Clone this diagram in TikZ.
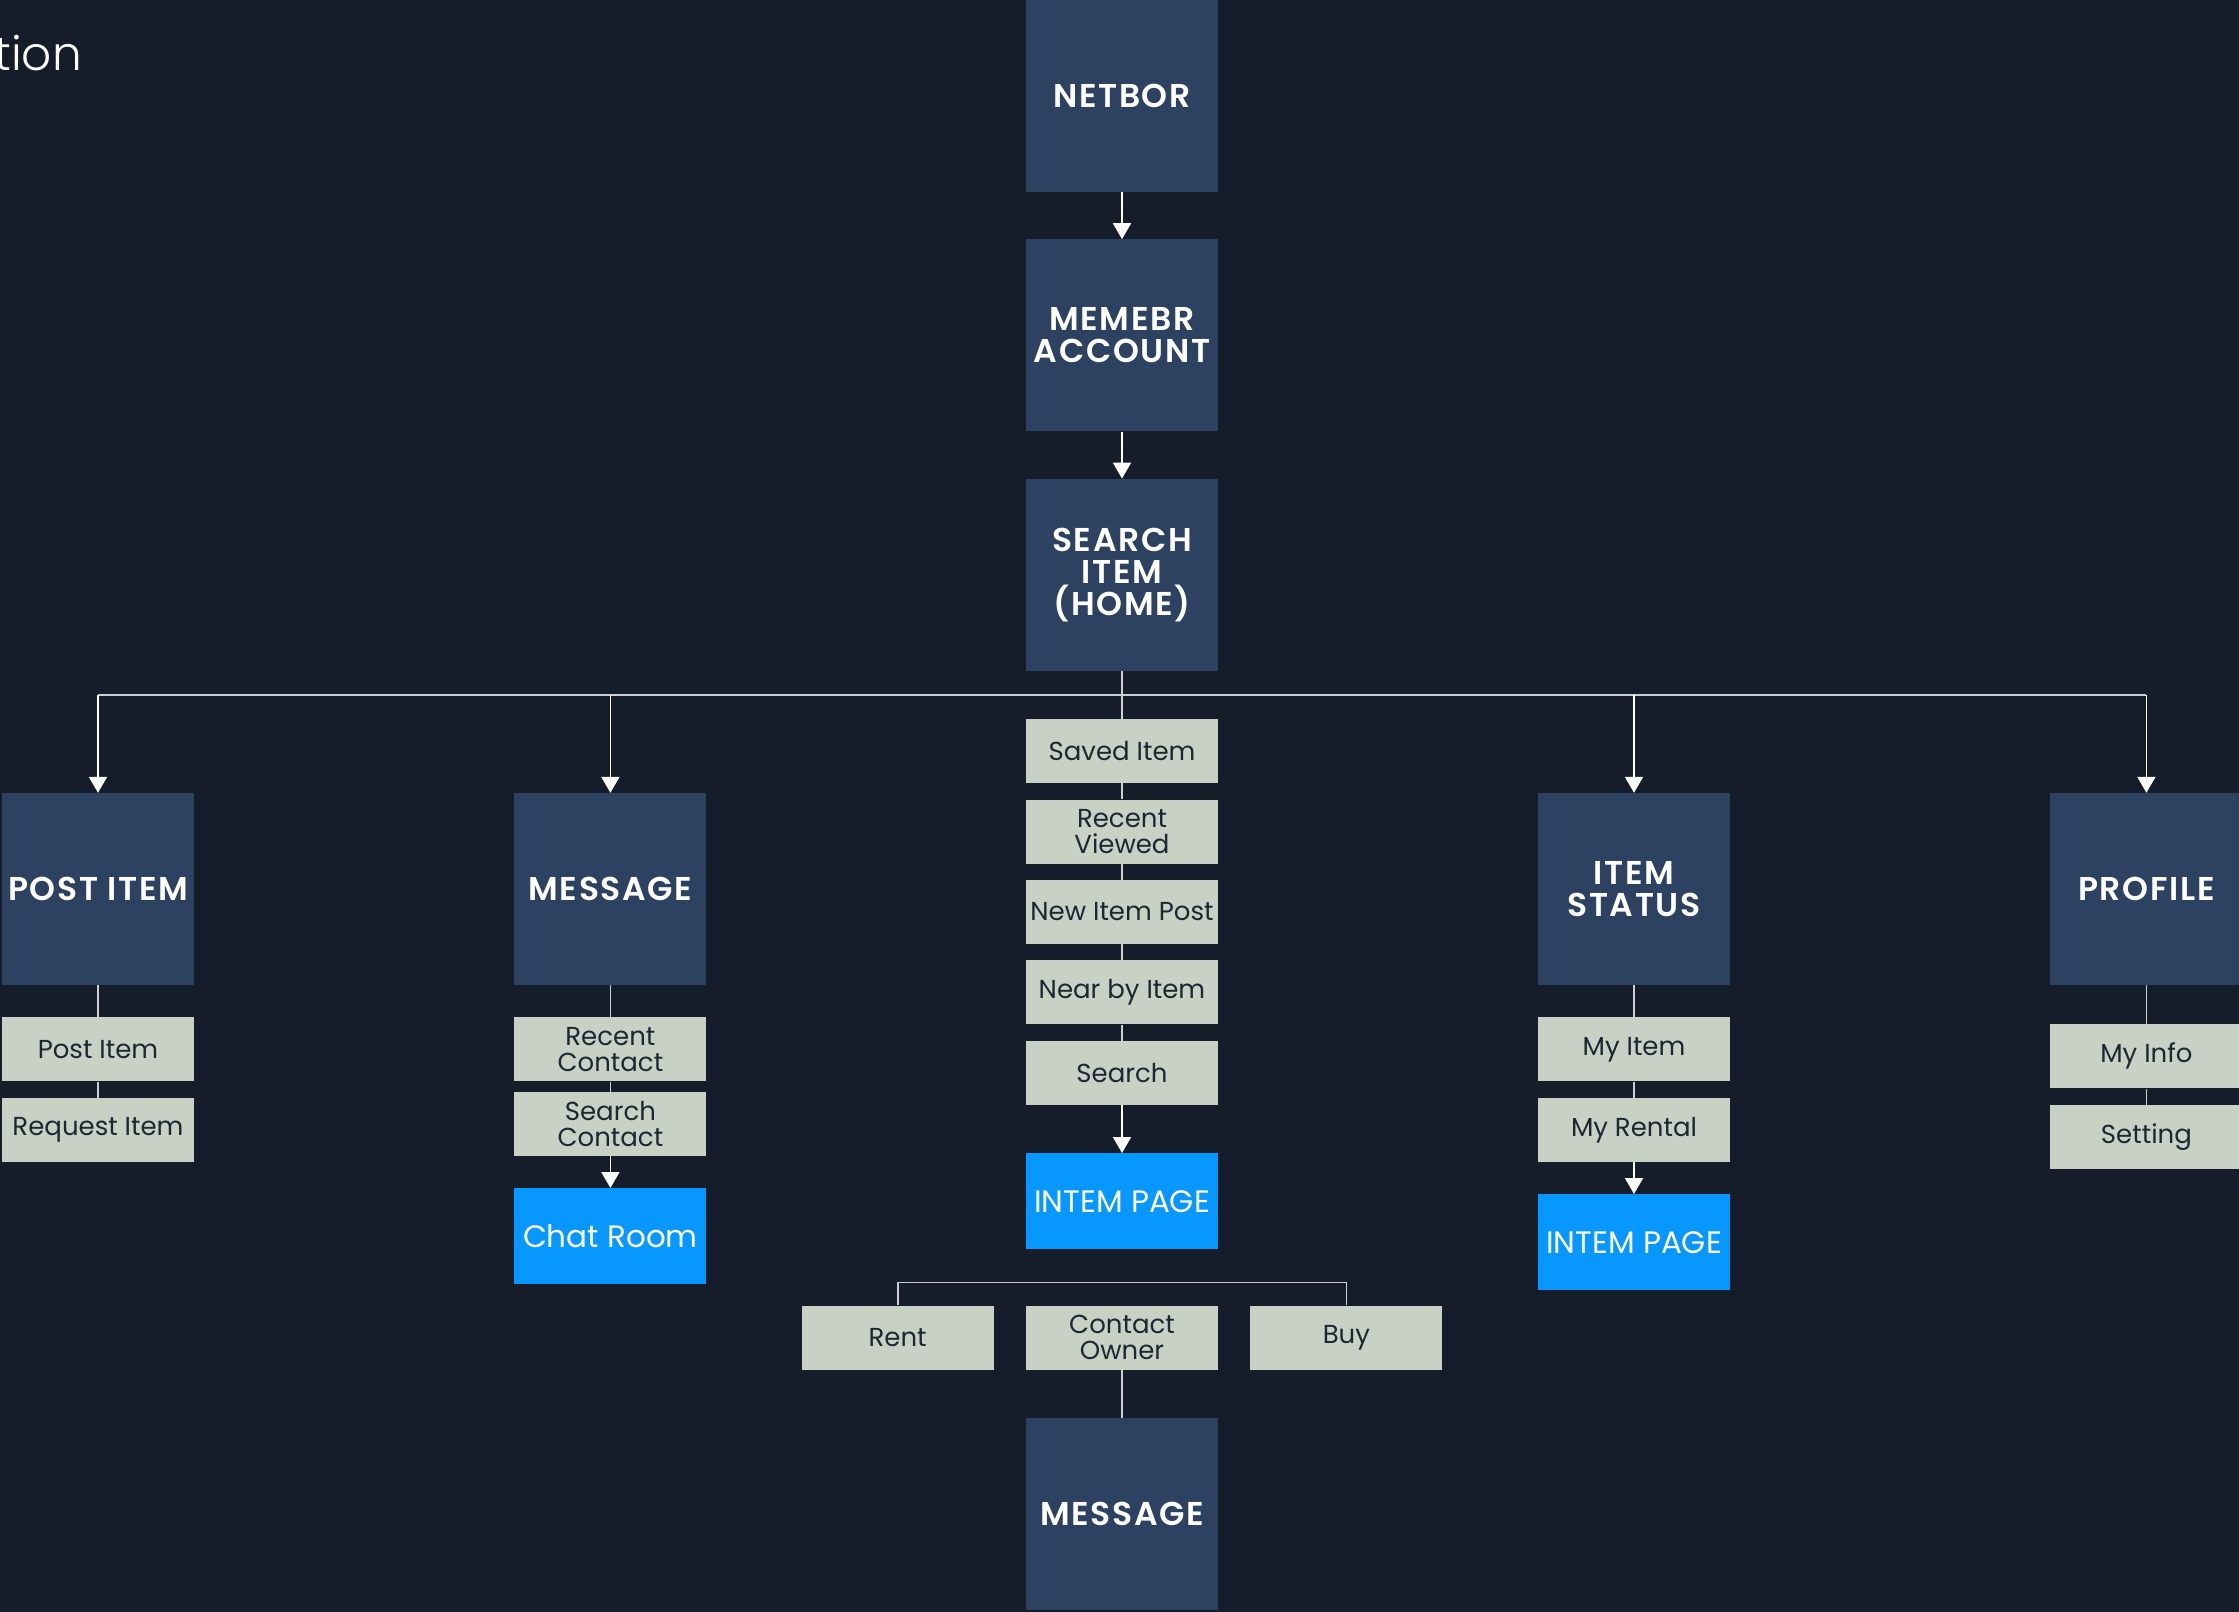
\documentclass[tikz,border=0pt]{standalone}
\usepackage{fontspec}
\setmainfont{Poppins}
\newfontfamily\lightfont{Poppins Light}
\newfontfamily\headfont{Poppins SemiBold}[LetterSpace=5]
\usetikzlibrary{arrows.meta, positioning}

\definecolor{bgnavy}{HTML}{151D2B}
\definecolor{boxnavy}{HTML}{2D4161}
\definecolor{sage}{HTML}{C9D1C5}
\definecolor{ink}{HTML}{1E2633}
\definecolor{pageblue}{HTML}{0797FE}
\definecolor{wire}{HTML}{CBCFD2}

\begin{document}
\begin{tikzpicture}[x=1pt, y=-1pt,
    node distance=16pt and 32pt,
    screenbox/.style={rectangle, minimum width=192pt, minimum height=192pt, inner sep=0pt, align=center, fill=boxnavy, text=white, font=\headfont\fontsize{33}{32}\selectfont},
    feature/.style={rectangle, minimum width=192pt, minimum height=64pt, inner sep=0pt, align=center, fill=sage, text=ink, font=\fontsize{26}{26}\selectfont},
    pagebox/.style={rectangle, minimum width=192pt, minimum height=96pt, inner sep=0pt, align=center, fill=pageblue, text=white, font=\fontsize{31}{31}\selectfont},
    link/.style={draw=wire, line width=1.8pt},
    arrow/.style={draw=white, line width=1.8pt, -{Triangle[width=18pt,length=16pt]}}
    ]
    \fill[bgnavy] (0,0) rectangle (2239,1612);
    \useasboundingbox (0,0) rectangle (2239,1612);

    % Title (cut off)
    \node (title) [anchor=base east, inner sep=0pt, text=white, font=\lightfont\fontsize{47}{47}\selectfont] at (82,70) {tion};

    % Main flow
    \node (netbor) [screenbox] at (1122,96) {NETBOR};
    \node (member) [screenbox, below=47pt of netbor] {MEMEBR\\ACCOUNT};
    \node (home) [screenbox, below=47pt of member] {SEARCH\\ITEM\\(HOME)};
    \coordinate (bus) at ([yshift=-24pt]home.south);

    % Sections
    \node (post) [screenbox] at (98,889) {POST ITEM};
    \node (message) [screenbox, right=320pt of post] {MESSAGE};
    \node (status) [screenbox] at (1634,889) {ITEM\\STATUS};
    \node (profile) [screenbox, right=320pt of status] {PROFILE};

    % Post item
    \node (postitem) [feature, below=32pt of post] {Post Item};
    \node (request) [feature, below=of postitem] {Request Item};

    % Message
    \node (recentc) [feature, below=32pt of message] {Recent\\Contact};
    \node (searchc) [feature, below=10pt of recentc] {Search\\Contact};
    \node (chat) [pagebox, below=32pt of searchc] {Chat Room};

    % Home
    \node (saved) [feature, below=48pt of home] {Saved Item};
    \node (recentv) [feature, below=of saved] {Recent\\Viewed};
    \node (newpost) [feature, below=of recentv] {New Item Post};
    \node (nearby) [feature, below=of newpost] {Near by Item};
    \node (search) [feature, below=of nearby] {Search};
    \node (itempage) [pagebox, below=48pt of search] {INTEM PAGE};
    \node (contact) [feature, below=56pt of itempage] {Contact\\Owner};
    \node (rent) [feature, left=of contact] {Rent};
    \node (buy) [feature, right=of contact] {Buy};
    \node (ownermsg) [screenbox, below=48pt of contact] {MESSAGE};
    \coordinate (fork) at ([yshift=23pt]contact.north);

    % Item status
    \node (myitem) [feature, below=32pt of status] {My Item};
    \node (myrental) [feature, below=of myitem] {My Rental};
    \node (statuspage) [pagebox, below=32pt of myrental] {INTEM PAGE};

    % Profile
    \node (myinfo) [feature, below=39pt of profile] {My Info};
    \node (setting) [feature, below=of myinfo] {Setting};

    % Arrows - main
    \draw [arrow] (netbor) -- (member);
    \draw [arrow] (member) -- (home);
    \draw [link] (home) -- (saved);
    \draw [link] (post |- bus) -- (profile |- bus);
    \foreach \sec in {post, message, status, profile}
        \draw [arrow] (\sec |- bus) -- (\sec);

    % Arrows - sections
    \draw [link] (post) -- (postitem);
    \draw [link] (postitem) -- (request);
    \draw [link] (message) -- (recentc);
    \draw [link] (recentc) -- (searchc);
    \draw [arrow] (searchc) -- (chat);
    \draw [link] (saved) -- (recentv);
    \draw [link] (recentv) -- (newpost);
    \draw [link] (newpost) -- (nearby);
    \draw [link] (nearby) -- (search);
    \draw [arrow] (search) -- (itempage);
    \draw [link] (rent) -- (rent |- fork) -- (buy |- fork) -- (buy);
    \draw [link] (contact) -- (ownermsg);
    \draw [link] (status) -- (myitem);
    \draw [link] (myitem) -- (myrental);
    \draw [arrow] (myrental) -- (statuspage);
    \draw [link] (profile) -- (myinfo);
    \draw [link] (myinfo) -- (setting);
\end{tikzpicture}
\end{document}
